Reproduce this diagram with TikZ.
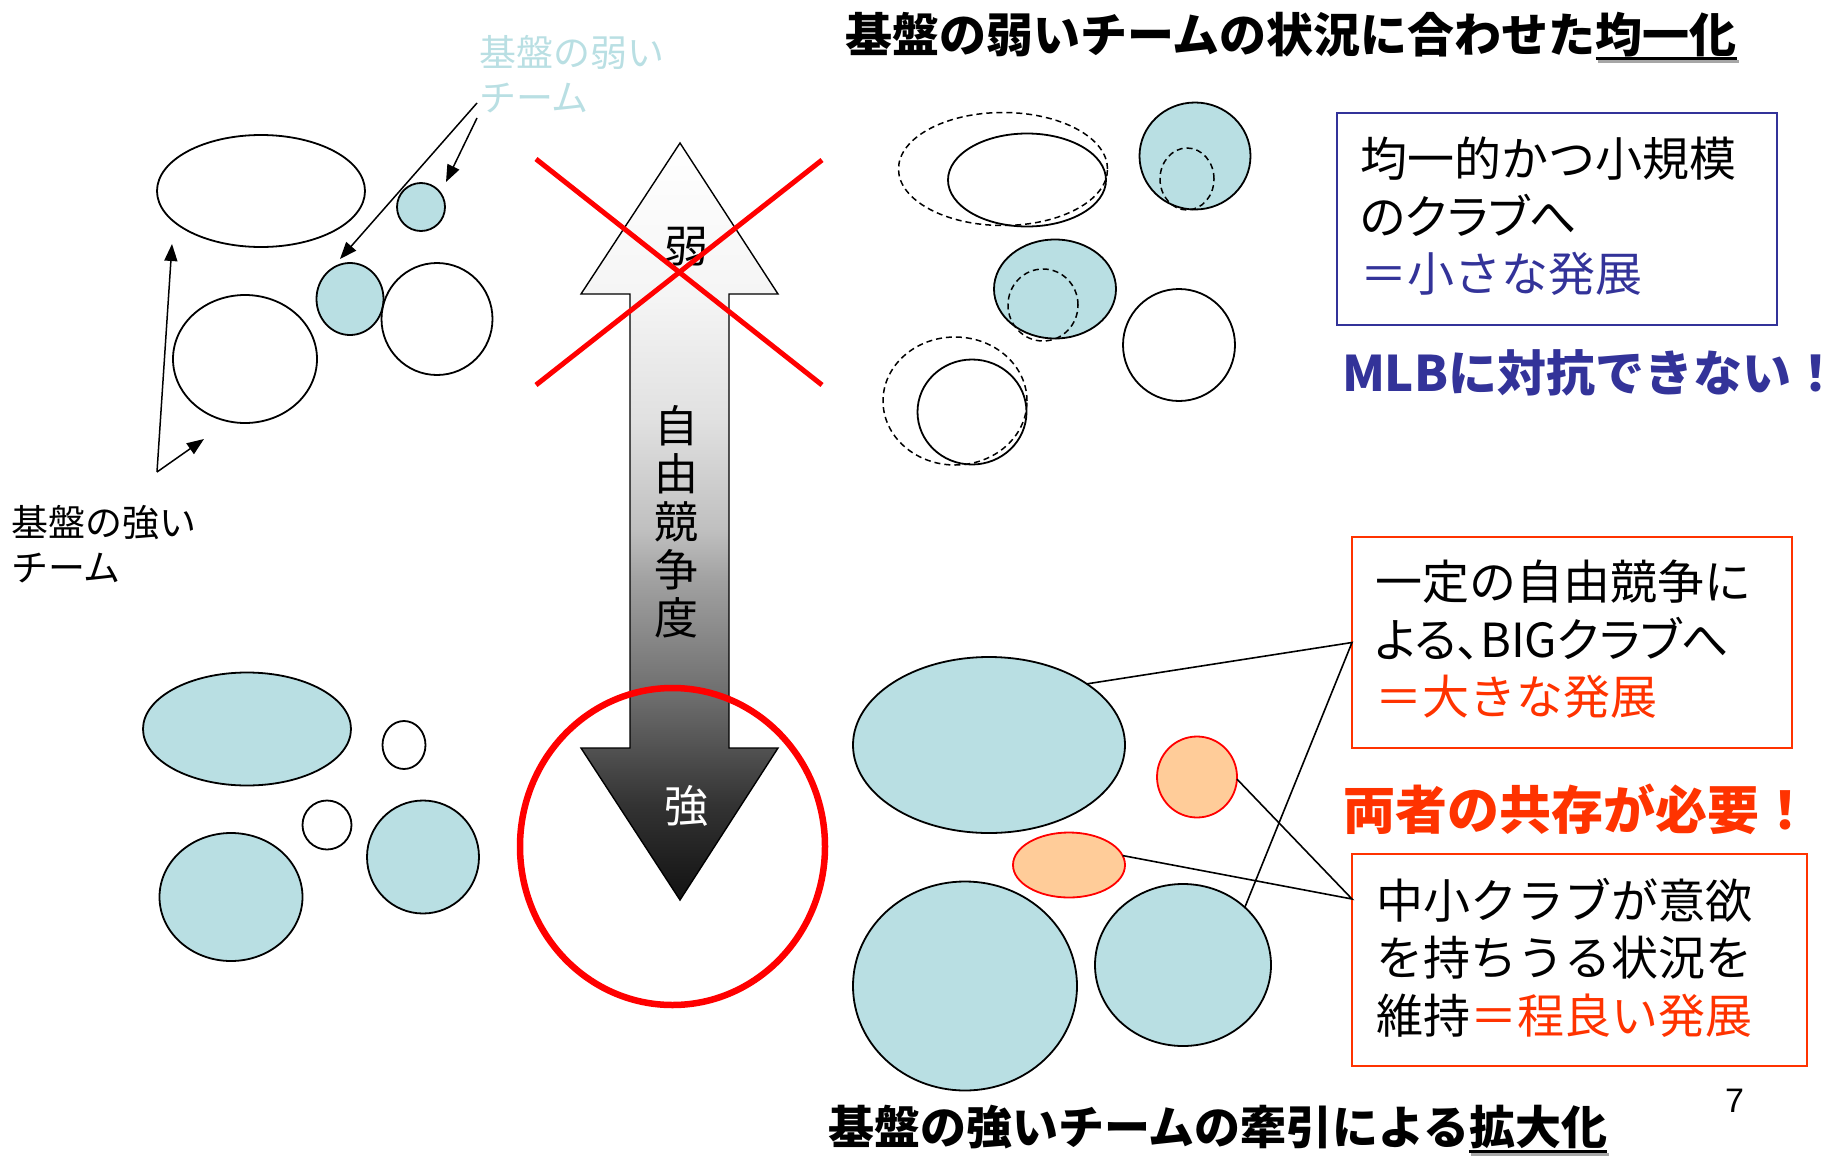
\documentclass[tikz,border=0pt]{standalone}
\usepackage{fontspec}
\setmainfont{Noto Sans CJK JP}
\newfontfamily\jpp{Noto Sans CJK JP}[RawFeature=+palt]
\newfontfamily\latinsans{Liberation Sans}
\usetikzlibrary{shapes.geometric,arrows.meta}
\definecolor{lblue}{RGB}{185,223,227}
\definecolor{dblue}{RGB}{51,51,153}
\definecolor{ored}{RGB}{255,51,0}
\definecolor{peach}{RGB}{255,204,153}
\pgfdeclareverticalshading{arrowgrad}{100bp}{color(0bp)=(black!93); color(25bp)=(black!93); color(31.3bp)=(black!80); color(35bp)=(black!68); color(38.2bp)=(black!58); color(46.1bp)=(black!37); color(49.4bp)=(black!25); color(56.7bp)=(black!12); color(65bp)=(black!4); color(75bp)=(white); color(100bp)=(white)}
\begin{document}
\begin{tikzpicture}[x=1pt,y=-1pt,
  every node/.style={inner sep=0pt, outer sep=0pt},
  ell/.style 2 args={ellipse, draw=black, line width=1.8pt, minimum width=#1pt, minimum height=#2pt},
  dsh/.style={dash pattern=on 6pt off 4pt, line width=1.5pt},
  blu/.style={fill=lblue},
  pch/.style={fill=peach, draw=red},
  ptr/.style={-{Triangle[length=17pt,width=13pt]}, line width=1.5pt},
  conn/.style={line width=1.6pt},
  redx/.style={red, line width=5pt},
  ttl/.style={font=\fontsize{47}{56}\selectfont\bfseries, anchor=base west},
  btl/.style={font=\fontsize{46}{56}\selectfont\bfseries, anchor=base west},
  boxtxt/.style={font=\fontsize{47}{57.5}\selectfont, align=left, anchor=north west},
  lbl/.style={font=\fontsize{37}{45}\selectfont, align=left, anchor=north west},
  arr/.style={font=\fontsize{44}{48}\selectfont, align=center},
  uline/.style={line width=3pt},
  ushadow/.style={line width=3pt, black!35}
]
\useasboundingbox (0,0) rectangle (1842,1159);

% ---------- top-left group ----------
\node[ell={208}{112}] (tl1) at (261,191) {};
\node[ell={48}{48}, blu] (tl2) at (421,207) {};
\node[ell={67}{72}, blu] (tl3) at (350,299) {};
\node[ell={111}{112}] (tl4) at (437,319) {};
\node[ell={144}{128}] (tl5) at (245,359) {};

\node[lbl, text=lblue] (wlab) at (479,35) {基盤の弱い\\チーム};
\coordinate (wA) at (477,103);
\coordinate (wB) at (477,118);
\coordinate (wAt) at (340,259);
\coordinate (wBt) at (446,182);
\draw[ptr] (wA) -- (wAt);
\draw[ptr] (wB) -- (wBt);

\node[lbl] (slab) at (11,505) {基盤の強い\\チーム};
\coordinate (sA) at (157,472);
\coordinate (sAt) at (172,244);
\coordinate (sBt) at (204,439);
\draw[ptr] (sA) -- (sAt);
\draw[ptr] (sA) -- (sBt);

% ---------- bottom-left group ----------
\node[ell={208}{113}, blu] (bl1) at (247,729) {};
\node[ell={43}{48}] (bl2) at (404,745) {};
\node[ell={49}{49}] (bl3) at (327,825) {};
\node[ell={112}{113}, blu] (bl4) at (423,857) {};
\node[ell={143}{128}, blu] (bl5) at (231,897) {};

% ---------- top-right group ----------
\node[ell={209}{113}, dsh] (trd1) at (1003,169) {};
\node[ell={158}{93}] (trs1) at (1027,180) {};
\node[ell={111}{107}, blu] (tr2) at (1195,156) {};
\node[ell={54}{62}, dsh] (trd2) at (1187,179) {};
\node[ell={122}{99}, blu] (tr3) at (1055,289) {};
\node[ell={70}{72}, dsh] (trd3) at (1043,305) {};
\node[ell={112}{112}] (tr4) at (1179,345) {};
\node[ell={144}{128}, dsh] (trd5) at (955,401) {};
\node[ell={109}{105}] (trs5) at (972,412) {};

% ---------- bottom-right group ----------
\node[ell={272}{176}, blu] (br1) at (989,745) {};
\node[ell={80}{81}, pch] (or1) at (1197,777) {};
\node[ell={112}{65}, pch] (or2) at (1069,865) {};
\node[ell={224}{209}, blu] (br2) at (965,986) {};
\node[ell={176}{162}, blu] (br3) at (1183,965) {};

% ---------- central arrow ----------
\shadedraw[shading=arrowgrad, line width=1.4pt, line join=miter]
  (680,143) -- (778,294) -- (729,294) -- (729,748) -- (778,748) -- (680,900)
  -- (581,748) -- (630,748) -- (630,294) -- (581,294) -- cycle;
\node[arr] (weak) at (686,247) {弱};
\node[arr] (axis) at (676,522) {自\\由\\競\\争\\度};
\node[arr, text=white] (strong) at (686,806) {強};

\draw[redx] (536,159) -- (822,385);
\draw[redx] (822,160) -- (536,385);
\draw[red, line width=6.5pt] (672.5,846.5) ellipse [x radius=152.5pt, y radius=158.5pt];

% ---------- titles ----------
\node[ttl] (t1) at (845,52) {基盤の弱いチームの状況に合わせた};
\node[ttl] (t2) at (t1.base east) {均一化};
\draw[ushadow] ([shift={(2pt,-9pt)}]t2.base west) -- ([shift={(2pt,-9pt)}]t2.base east);
\draw[uline] ([yshift=-6pt]t2.base west) -- ([yshift=-6pt]t2.base east);

\node[btl] (b1) at (828,1144) {基盤の強いチームの牽引による};
\node[btl] (b2) at (b1.base east) {拡大化};
\draw[ushadow] ([shift={(2pt,-10pt)}]b2.base west) -- ([shift={(2pt,-10pt)}]b2.base east);
\draw[uline] ([yshift=-7pt]b2.base west) -- ([yshift=-7pt]b2.base east);

\node[font=\latinsans\fontsize{34}{40}\selectfont] (pg) at (1734.5,1100.5) {7};

% ---------- boxes ----------
\node[draw=dblue, line width=2pt, minimum width=440pt, minimum height=212pt] (box1) at (1557,219) {};
\node[boxtxt] (box1t) at (1360,137) {均一的かつ小規模\\{\jpp のクラブへ}\\\textcolor{dblue}{＝小さな発展}};

\node[font=\fontsize{49}{56}\selectfont\bfseries, text=dblue, anchor=base west] (mlb) at (1342,391) {MLBに対抗できない！};

\node[draw=ored, line width=2pt, minimum width=440pt, minimum height=211pt] (box2) at (1572,642.5) {};
\node[boxtxt] (box2t) at (1375,560) {一定の自由競争に\\{\jpp よる、BIGクラブへ}\\\textcolor{ored}{＝大きな発展}};

\node[font=\fontsize{52}{58}\selectfont\bfseries, text=ored, anchor=base west] (both) at (1343,829) {両者の共存が必要！};

\node[draw=ored, line width=2pt, minimum width=455pt, minimum height=212pt] (box3) at (1579.5,960) {};
\node[boxtxt] (box3t) at (1376,878) {中小クラブが意欲\\を持ちうる状況を\\維持\textcolor{ored}{＝程良い発展}};

% ---------- connectors ----------
\draw[conn] (br1.32) -- (box2.west) -- (br3.43);
\draw[conn] (or1.-3) -- ([yshift=-45pt]box3.north west) -- (or2.10);
\end{tikzpicture}
\end{document}
